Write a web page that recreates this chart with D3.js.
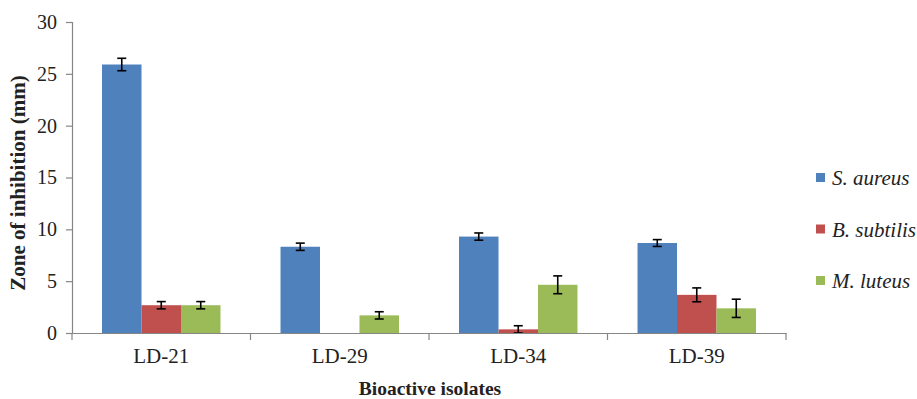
<!DOCTYPE html>
<html>
<head>
<meta charset="utf-8">
<script src="https://cdn.jsdelivr.net/npm/d3@7"></script>
<style>
  html, body { margin: 0; padding: 0; background: #fff; }
  svg { display: block; }
</style>
</head>
<body>
<svg id="chart" width="917" height="399"></svg>
<script>
const categories = ["LD-21", "LD-29", "LD-34", "LD-39"];
const seriesNames = ["S. aureus", "B. subtilis", "M. luteus"];
const sAureus = [25.9, 8.32, 9.3, 8.68];
const bSubtilis = [2.68, 0, 0.35, 3.68];
const mLuteus = [2.68, 1.7, 4.65, 2.38];
const sAureusErr = [0.6, 0.35, 0.35, 0.33];
const bSubtilisErr = [0.35, 0, 0.35, 0.67];
const mLuteusErr = [0.35, 0.35, 0.86, 0.88];
const yTicks = [0, 5, 10, 15, 20, 25, 30];
const colors = ["#4F81BD", "#C0504D", "#9BBB59"];

const values = [sAureus, bSubtilis, mLuteus];
const errors = [sAureusErr, bSubtilisErr, mLuteusErr];
const FONT = "Liberation Serif";

const svg = d3.select("#chart");
const mLeft = 72, mRight = 786, mTop = 22, mBottom = 333;

const x0 = d3.scaleBand().domain(categories).range([mLeft, mRight]).padding(0);
const x1 = d3.scaleBand().domain(seriesNames).range([0, x0.bandwidth()])
  .paddingInner(0).paddingOuter(0.76);
const y = d3.scaleLinear().domain([0, 30]).range([mBottom, mTop]);
const color = d3.scaleOrdinal().domain(seriesNames).range(colors);

// Bars
const rows = [];
categories.forEach((c, i) => {
  seriesNames.forEach((s, j) => {
    rows.push({ cat: c, series: s, v: values[j][i], e: errors[j][i] });
  });
});

svg.append("g").selectAll("rect").data(rows.filter(d => d.v > 0)).join("rect")
  .attr("x", d => x0(d.cat) + x1(d.series))
  .attr("y", d => y(d.v))
  .attr("width", x1.bandwidth())
  .attr("height", d => y(0) - y(d.v))
  .attr("fill", d => color(d.series));

// Error bars
const eg = svg.append("g").attr("stroke", "#000").attr("stroke-width", 1.6);
rows.filter(d => d.e > 0).forEach(d => {
  const cx = x0(d.cat) + x1(d.series) + x1.bandwidth() / 2;
  const lo = Math.max(0, d.v - d.e), hi = d.v + d.e;
  eg.append("line").attr("x1", cx).attr("x2", cx).attr("y1", y(lo)).attr("y2", y(hi));
  eg.append("line").attr("x1", cx - 4.5).attr("x2", cx + 4.5).attr("y1", y(hi)).attr("y2", y(hi));
  eg.append("line").attr("x1", cx - 4.5).attr("x2", cx + 4.5).attr("y1", y(lo)).attr("y2", y(lo));
});

// Y axis
const yAxis = svg.append("g").attr("transform", `translate(${mLeft},0)`)
  .call(d3.axisLeft(y).tickValues(yTicks).tickSize(6).tickPadding(9));
yAxis.select(".domain").attr("stroke", "#868686").attr("stroke-width", 1.2);
yAxis.selectAll(".tick line").attr("stroke", "#868686").attr("stroke-width", 1.2);
yAxis.selectAll(".tick text").style("font-size", "20px").style("fill", "#222")
  .style("font-family", FONT);

// X axis
const xAxis = svg.append("g").attr("transform", `translate(0,${mBottom})`)
  .call(d3.axisBottom(x0).tickSize(0).tickPadding(15));
xAxis.select(".domain").attr("stroke", "#868686").attr("stroke-width", 1.2);
xAxis.selectAll(".tick text").style("font-size", "21px").style("fill", "#222")
  .style("font-family", FONT);
// Band boundary ticks
const bounds = categories.map(c => x0(c)).concat([mRight]);
svg.append("g").selectAll("line").data(bounds).join("line")
  .attr("x1", d => d).attr("x2", d => d)
  .attr("y1", mBottom).attr("y2", mBottom + 7)
  .attr("stroke", "#868686").attr("stroke-width", 1.2);

// Axis titles
svg.append("text")
  .attr("x", 430).attr("y", 395)
  .attr("text-anchor", "middle")
  .style("font-family", FONT).style("font-weight", "bold")
  .style("font-size", "19.5px").style("fill", "#222")
  .text("Bioactive isolates");

svg.append("text")
  .attr("transform", "translate(25,183) rotate(-90)")
  .attr("text-anchor", "middle")
  .style("font-family", FONT).style("font-weight", "bold")
  .style("font-size", "21px").style("fill", "#222")
  .text("Zone of inhibition (mm)");

// Legend
const legend = svg.append("g");
seriesNames.forEach((s, i) => {
  const ly = 178 + i * 51.5;
  legend.append("rect").attr("x", 816).attr("y", ly - 5).attr("width", 9).attr("height", 9)
    .attr("fill", color(s));
  legend.append("text").attr("x", 832).attr("y", ly + 7)
    .style("font-family", FONT).style("font-style", "italic")
    .style("font-size", "21px").style("fill", "#222")
    .text(s);
});
</script>
</body>
</html>
